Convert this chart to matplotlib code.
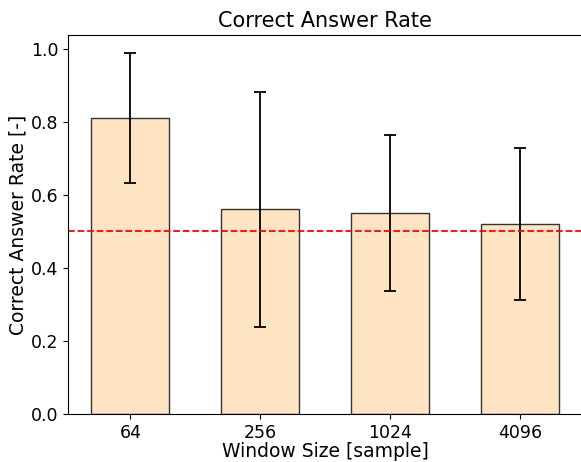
import matplotlib
matplotlib.use('Agg')
import matplotlib.pyplot as plt

window_sizes = ['64', '256', '1024', '4096']
rates = [0.81, 0.56, 0.55, 0.52]
rate_errs = [0.178, 0.322, 0.213, 0.209]
chance_level = 0.5

fig = plt.figure(figsize=(5.81, 4.62), dpi=100)
ax = fig.add_axes([0.117, 0.104, 0.885, 0.820])

x = range(len(window_sizes))
ax.bar(x, rates, width=0.6, color='bisque', edgecolor='#333333', linewidth=1,
       yerr=rate_errs, capsize=4.5, error_kw={'elinewidth': 1.3, 'capthick': 1.3})
ax.axhline(chance_level, color='red', linestyle='--', linewidth=1.3)

ax.set_xticks(list(x))
ax.set_xticklabels(window_sizes)
ax.tick_params(labelsize=12.5)
ax.set_xlabel('Window Size [sample]', fontsize=13.5, labelpad=0)
ax.set_ylabel('Correct Answer Rate [-]', fontsize=13.5, labelpad=2)
ax.set_title('Correct Answer Rate', fontsize=15)

fig.savefig('out.png', dpi=100)
